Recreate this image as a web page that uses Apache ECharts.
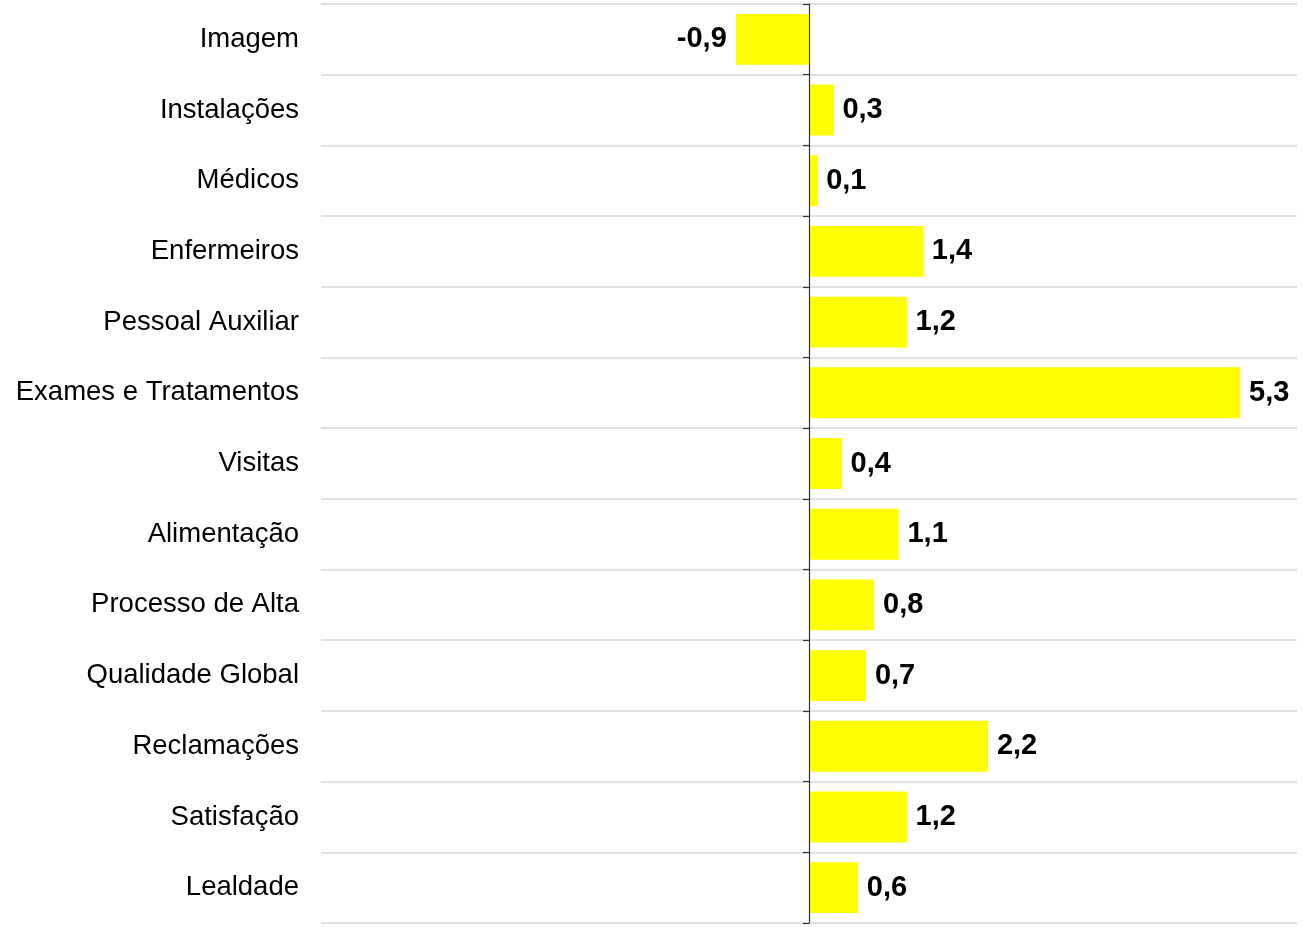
<!DOCTYPE html>
<html>
<head>
<meta charset="utf-8">
<script src="https://cdn.jsdelivr.net/npm/echarts@6/dist/echarts.min.js"></script>
<style>
  html, body { margin: 0; padding: 0; background: #fff; }
  #chart { width: 1303px; height: 927px; }
</style>
</head>
<body>
<div id="chart"></div>
<script>
var categories = ['Imagem', 'Instalações', 'Médicos', 'Enfermeiros', 'Pessoal Auxiliar',
  'Exames e Tratamentos', 'Visitas', 'Alimentação', 'Processo de Alta',
  'Qualidade Global', 'Reclamações', 'Satisfação', 'Lealdade'];
var values = [-0.9, 0.3, 0.1, 1.4, 1.2, 5.3, 0.4, 1.1, 0.8, 0.7, 2.2, 1.2, 0.6];

var font = 'Arial, "Liberation Sans", sans-serif';

var chart = echarts.init(document.getElementById('chart'));

chart.setOption({
  animation: false,
  grid: { left: 321, right: 6, top: 4, bottom: 4 },
  xAxis: {
    type: 'value',
    min: -6,
    max: 6,
    axisLine: { show: false },
    axisTick: { show: false },
    axisLabel: { show: false },
    splitLine: { show: false }
  },
  yAxis: [{
    type: 'category',
    data: categories,
    inverse: true,
    axisLine: { show: false, onZero: false },
    axisTick: { show: false },
    splitLine: { show: true, lineStyle: { color: '#d6d6d6', width: 1.5 } },
    axisLabel: { color: '#000', fontFamily: font, fontSize: 27.5, margin: 22 }
  }, {
    // zero line with boundary ticks
    type: 'category',
    data: categories,
    inverse: true,
    position: 'left',
    z: 5,
    axisLine: { show: true, onZero: true, onZeroAxisIndex: 0, lineStyle: { color: '#333', width: 1.2 } },
    axisTick: { show: true, length: 6, lineStyle: { color: '#333', width: 1.2 } },
    axisLabel: { show: false },
    splitLine: { show: false }
  }],
  series: [{
    type: 'bar',
    yAxisIndex: 0,
    barCategoryGap: '28%',
    itemStyle: { color: '#ffff00' },
    data: values.map(function (v) {
      return {
        value: v,
        label: { position: v < 0 ? 'left' : 'right' }
      };
    }),
    label: {
      show: true,
      distance: 9,
      color: '#000',
      fontFamily: font,
      fontSize: 29,
      fontWeight: 'bold',
      formatter: function (p) { return String(p.value).replace('.', ','); }
    }
  }]
});
</script>
</body>
</html>
